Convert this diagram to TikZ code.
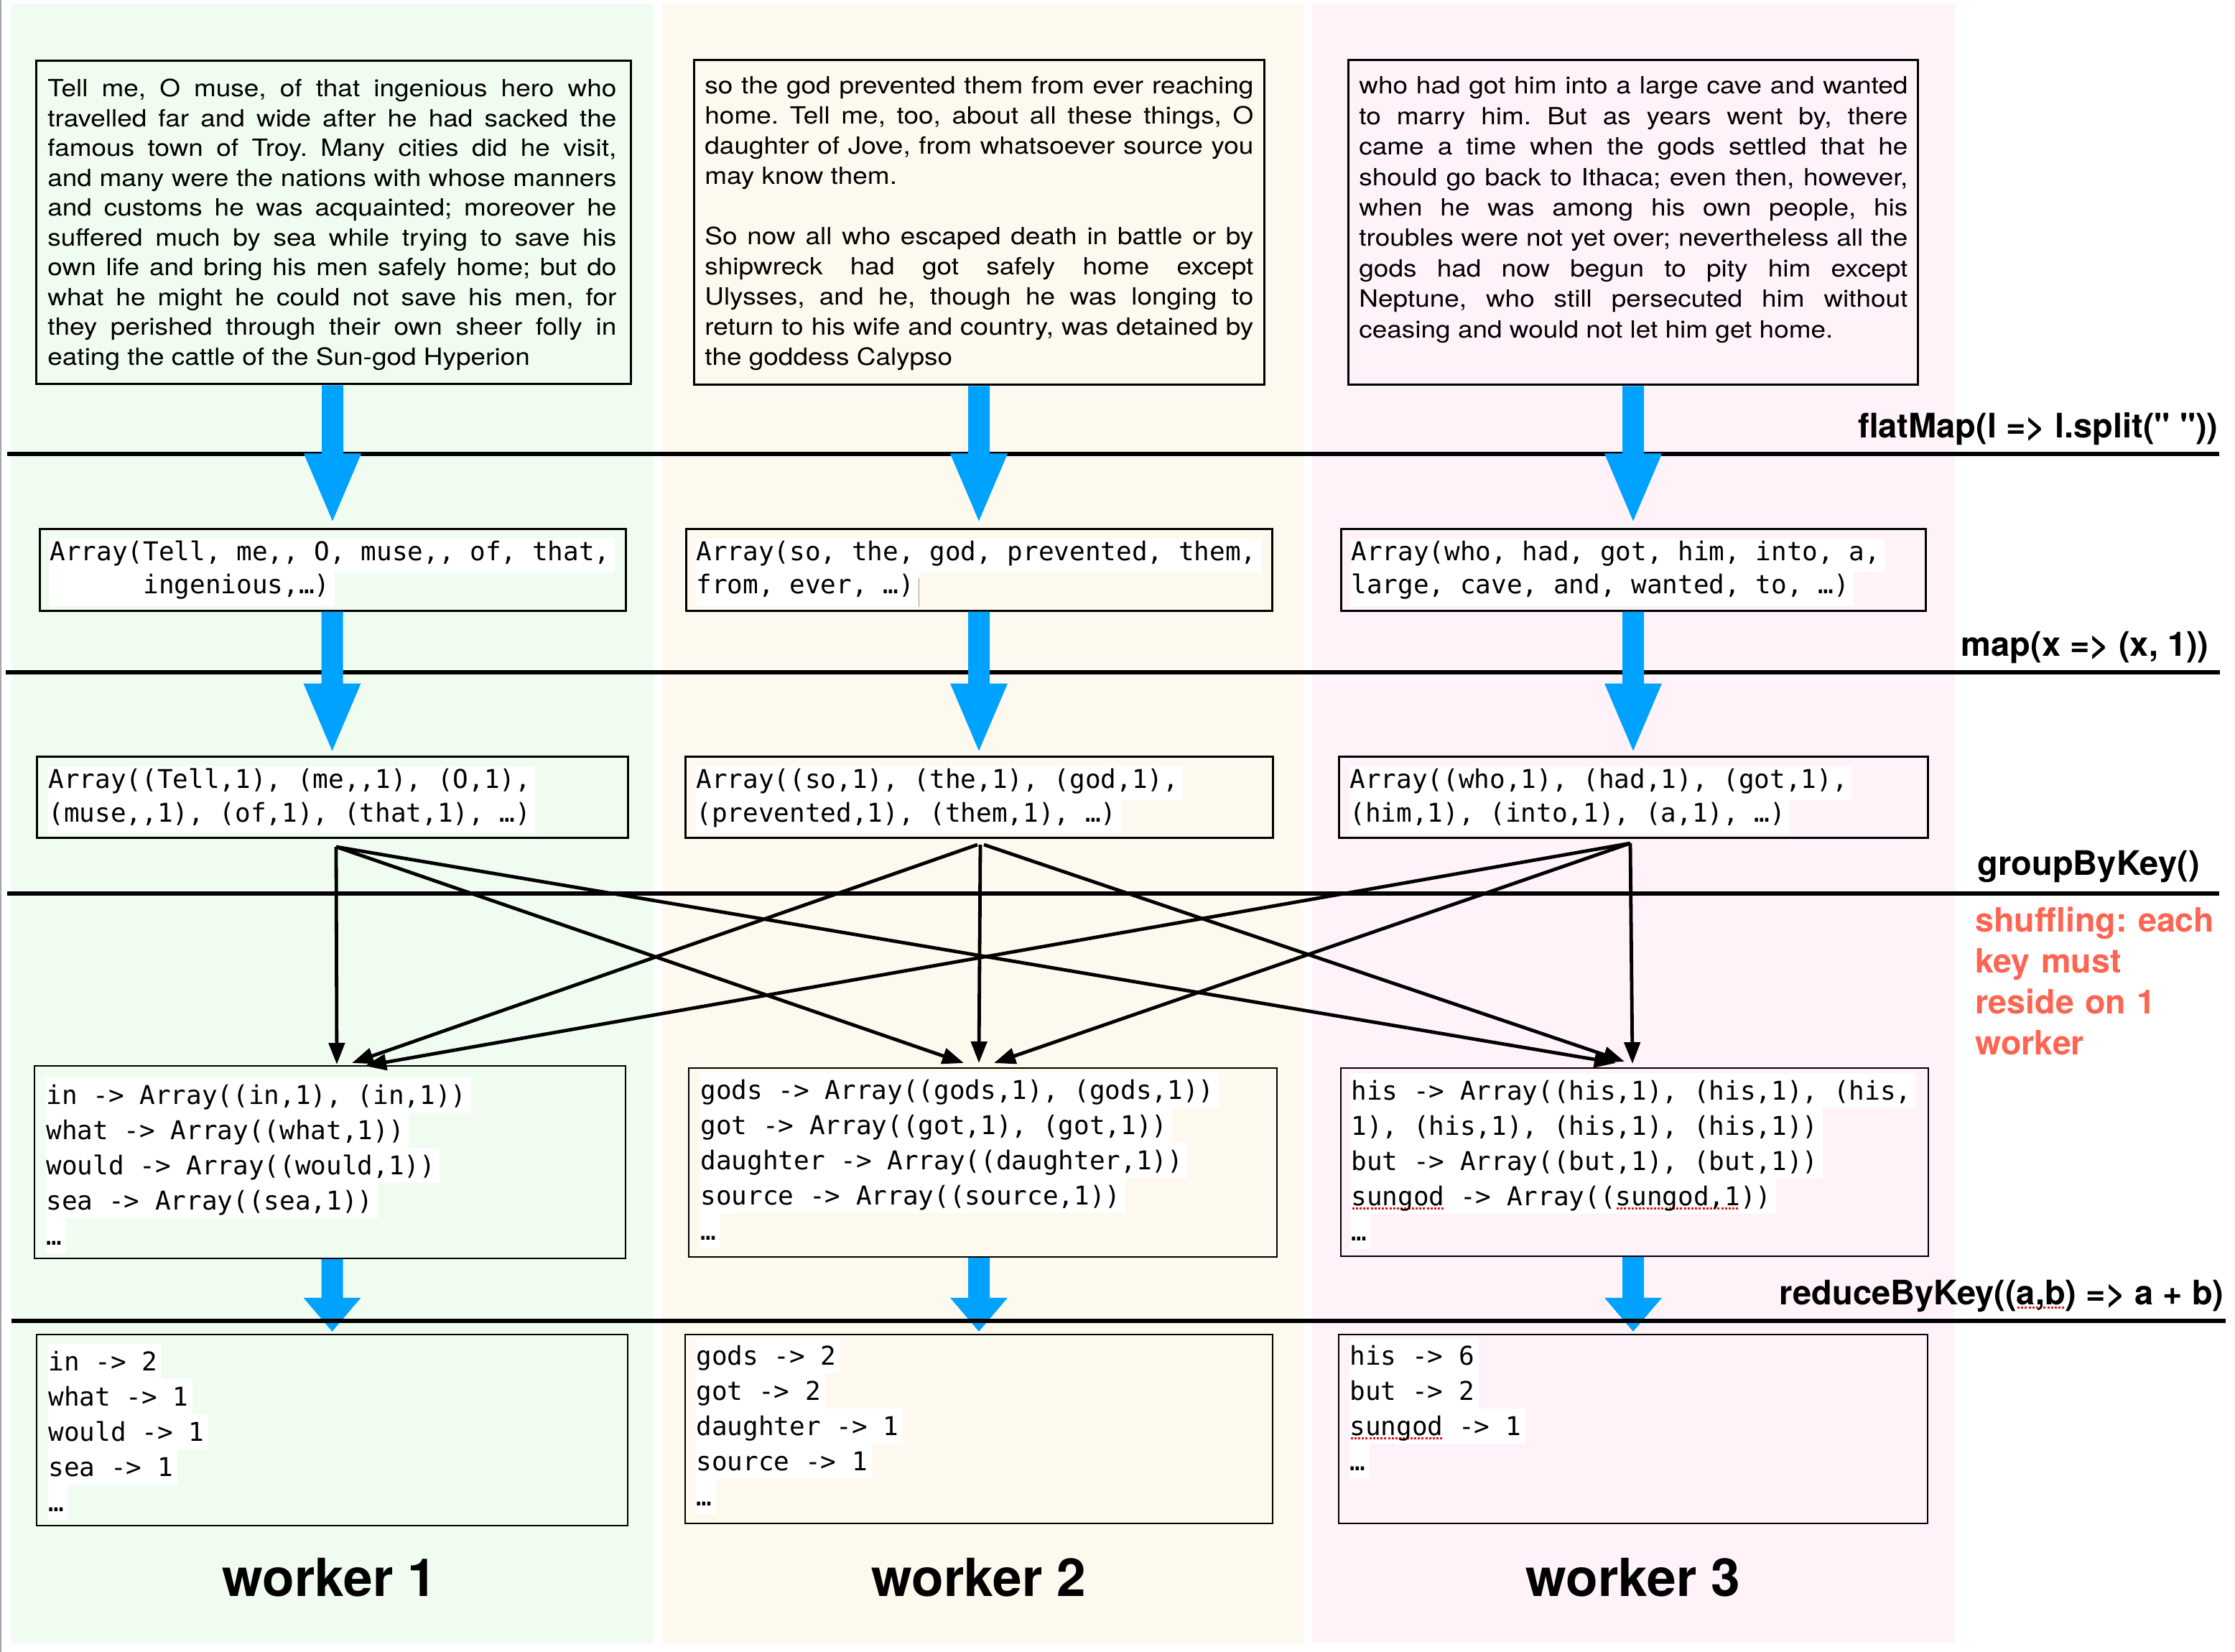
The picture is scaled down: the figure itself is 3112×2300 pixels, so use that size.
\documentclass[tikz,border=0pt]{standalone}
\usepackage{fontspec}
\setmainfont{TeX Gyre Heros}
\newfontfamily\bodyf[FakeStretch=1.12]{TeX Gyre Heros}
\newfontfamily\qf[Ligatures=TeXOff]{TeX Gyre Heros}
\newfontfamily\monof{DejaVu Sans Mono}
\usetikzlibrary{fit,calc,arrows.meta}
\definecolor{colA}{RGB}{241,252,240}
\definecolor{colB}{RGB}{254,249,238}
\definecolor{colC}{RGB}{255,242,248}
\definecolor{bluearr}{RGB}{0,162,255}
\definecolor{redtxt}{RGB}{255,100,82}
\definecolor{spellred}{RGB}{230,20,20}
\hbadness=10000 \vbadness=10000 \hfuzz=6pt
\frenchspacing
\newlength\spw
\newlength\monosp
\newcommand\spellu[1]{\settowidth\spw{#1}\leavevmode\rlap{\textcolor{spellred}{\raisebox{-3pt}{\leaders\hbox to 2.6pt{\hss\rule{1.5pt}{1.5pt}\hss}\hskip\spw}}}#1}
\newcommand\fixsp{\settowidth\monosp{x}\spaceskip=\monosp\xspaceskip=\monosp}
\newcommand\hlB[1]{{\setlength\fboxsep{0pt}\colorbox{white}{\fixsp\rule[-8.5pt]{0pt}{23.5pt}#1\hspace{3pt}}}}
\newcommand\hlD[1]{{\setlength\fboxsep{0pt}\colorbox{white}{\fixsp\rule[-6pt]{0pt}{24.5pt}#1\hspace{3pt}}}}
\newcommand\bluearrow[4]{%
  \fill[bluearr] let \p1=(#1.south), \p2=(#2.north) in
    ({\x2-7.5pt},{\y1}) -- ({\x2+7.5pt},{\y1}) -- ({\x2+7.5pt},{\y2+#3pt+#4pt})
    -- ({\x2+20pt},{\y2+#3pt+#4pt}) -- ({\x2},{\y2+#3pt})
    -- ({\x2-20pt},{\y2+#3pt+#4pt}) -- ({\x2-7.5pt},{\y2+#3pt+#4pt}) -- cycle;}
\tikzset{
  boxst/.style={draw, line width=1.5pt, inner sep=0pt},
  boxlo/.style={draw, line width=1.2pt, inner sep=0pt},
  bodyt/.style={inner sep=0pt, anchor=base west, align=justify},
  monoB/.style={font=\monof\fontsize{18pt}{23.5pt}\selectfont, anchor=base west, inner sep=0pt, text width=420pt, align=left},
  monoD/.style={font=\monof\fontsize{18pt}{24.5pt}\selectfont, anchor=base west, inner sep=0pt, text width=420pt, align=left},
  lbl/.style={font=\bfseries\fontsize{23.5pt}{28pt}\selectfont, inner sep=0pt, anchor=base east},
  redlbl/.style={font=\bfseries\fontsize{23.3pt}{28.5pt}\selectfont, text=redtxt, inner sep=0pt, anchor=base west, text width=190pt, align=left},
  wlbl/.style={font=\bfseries\fontsize{36.5pt}{40pt}\selectfont, inner sep=0pt, anchor=base},
  stage/.style={line width=2.7pt},
  shuf/.style={line width=2.4pt, -{Triangle[length=15pt,width=11pt]}}
}
\begin{document}
\begin{tikzpicture}[x=0.5pt,y=-0.5pt]
\useasboundingbox (0,0) rectangle (3112,2300);
% column backgrounds
\fill[colA] (16,5) rectangle (910,2288);
\fill[colB] (922,5) rectangle (1815,2288);
\fill[colC] (1827,5) rectangle (2722,2288);
\draw[black!35, line width=1pt] (1,0) -- (1,2300);
% stage lines
\draw[stage] (10,632) -- (3090,632);
\draw[stage] (8,936) -- (3091,936);
\draw[stage] (10,1244) -- (3090,1244);
% boxes row 1
\node[boxst, fit={(50,85) (878,535)}] (A1) {};
\node[boxst, fit={(966,84) (1760,536)}] (A2) {};
\node[boxst, fit={(1877,84) (2670,536)}] (A3) {};
\begin{scope}
\clip (0,0) rectangle (3112,516);
\node[bodyt, text width=396pt, font=\bodyf\fontsize{16.5pt}{20.75pt}\selectfont\hyphenpenalty10000\exhyphenpenalty10000] (A1t) at (66,135) {Tell me, O muse, of that ingenious hero who\linebreak
travelled far and wide after he had sacked the\linebreak
famous town of Troy. Many cities did he visit,\linebreak
and many were the nations with whose manners\linebreak
and customs he was acquainted; moreover he\linebreak
suffered much by sea while trying to save his\linebreak
own life and bring his men safely home; but do\linebreak
what he might he could not save his men, for\linebreak
they perished through their own sheer folly in\linebreak
eating the cattle of the Sun-god Hyperion};
\end{scope}
\node[bodyt, text width=382pt, font=\bodyf\fontsize{16.5pt}{21pt}\selectfont\hyphenpenalty10000\exhyphenpenalty10000] (A2t) at (981,131) {so the god prevented them from ever reaching\linebreak
home. Tell me, too, about all these things, O\linebreak
daughter of Jove, from whatsoever source you\linebreak
may know them.\par\vspace{21pt}
So now all who escaped death in battle or by\linebreak
shipwreck had got safely home except\linebreak
Ulysses, and he, though he was longing to\linebreak
return to his wife and country, was detained by\linebreak
the goddess Calypso};
\node[bodyt, text width=382pt, font=\bodyf\fontsize{16.5pt}{21.2pt}\selectfont\hyphenpenalty10000\exhyphenpenalty10000] (A3t) at (1892,131) {who had got him into a large cave and wanted\linebreak
to marry him. But as years went by, there\linebreak
came a time when the gods settled that he\linebreak
should go back to Ithaca; even then, however,\linebreak
when he was among his own people, his\linebreak
troubles were not yet over; nevertheless all the\linebreak
gods had now begun to pity him except\linebreak
Neptune, who still persecuted him without\linebreak
ceasing and would not let him get home.};
% row 2
\node[boxst, fit={(55,737) (871,850)}] (B1) {};
\node[boxst, fit={(955,737) (1771,850)}] (B2) {};
\node[boxst, fit={(1867,737) (2681,850)}] (B3) {};
\node[monoB] (B1t) at (69,780) {\hlB{Array(Tell, me,, O, muse,, of, that,}\\\hlB{\hphantom{AAAAAA}ingenious,…)}};
\node[monoB] (B2t) at (969,780) {\hlB{Array(so, the, god, prevented, them,}\\\hlB{from, ever, …)}\textcolor{black!40}{\rule[-9pt]{0.8pt}{20pt}}};
\node[monoB] (B3t) at (1881,780) {\hlB{Array(who, had, got, him, into, a,}\\\hlB{large, cave, and, wanted, to, …)}};
% row 3
\node[boxst, fit={(51,1053) (874,1166)}] (C1) {};
\node[boxst, fit={(954,1053) (1772,1166)}] (C2) {};
\node[boxst, fit={(1864,1053) (2684,1166)}] (C3) {};
\node[monoB] (C1t) at (67,1097) {\hlB{Array((Tell,1), (me,,1), (O,1),}\\\hlB{(muse,,1), (of,1), (that,1), …)}};
\node[monoB] (C2t) at (969,1097) {\hlB{Array((so,1), (the,1), (god,1),}\\\hlB{(prevented,1), (them,1), …)}};
\node[monoB] (C3t) at (1879,1097) {\hlB{Array((who,1), (had,1), (got,1),}\\\hlB{(him,1), (into,1), (a,1), …)}};
% row 4
\node[boxlo, fit={(48,1484) (871,1752)}] (D1) {};
\node[boxlo, fit={(959,1487) (1778,1750)}] (D2) {};
\node[boxlo, fit={(1867,1487) (2685,1749)}] (D3) {};
\node[monoD] (D1t) at (64,1537) {\hlD{in -> Array((in,1), (in,1))}\\\hlD{what -> Array((what,1))}\\\hlD{would -> Array((would,1))}\\\hlD{sea -> Array((sea,1))}\\\hlD{…}};
\node[monoD] (D2t) at (975,1530) {\hlD{gods -> Array((gods,1), (gods,1))}\\\hlD{got -> Array((got,1), (got,1))}\\\hlD{daughter -> Array((daughter,1))}\\\hlD{source -> Array((source,1))}\\\hlD{…}};
\node[monoD] (D3t) at (1881,1531) {\hlD{his -> Array((his,1), (his,1), (his,}\\\hlD{1), (his,1), (his,1), (his,1))}\\\hlD{but -> Array((but,1), (but,1))}\\\hlD{\spellu{sungod} -> Array((\spellu{sungod,1}))}\\\hlD{…}};
% row 5
\node[boxlo, fit={(51,1858) (874,2124)}] (E1) {};
\node[boxlo, fit={(954,1858) (1772,2121)}] (E2) {};
\node[boxlo, fit={(1864,1858) (2684,2121)}] (E3) {};
\node[monoD] (E1t) at (67,1908) {\hlD{in -> 2}\\\hlD{what -> 1}\\\hlD{would -> 1}\\\hlD{sea -> 1}\\\hlD{…}};
\node[monoD] (E2t) at (969,1900) {\hlD{gods -> 2}\\\hlD{got -> 2}\\\hlD{daughter -> 1}\\\hlD{source -> 1}\\\hlD{…}};
\node[monoD] (E3t) at (1879,1900) {\hlD{his -> 6}\\\hlD{but -> 2}\\\hlD{\spellu{sungod} -> 1}\\\hlD{…}};
% blue arrows
\bluearrow{A1}{B1}{5}{47}
\bluearrow{A2}{B2}{5}{47}
\bluearrow{A3}{B3}{5}{47}
\bluearrow{B1}{C1}{3}{47}
\bluearrow{B2}{C2}{3}{47}
\bluearrow{B3}{C3}{3}{47}
\bluearrow{D1}{E1}{1.5}{23.5}
\bluearrow{D2}{E2}{1.5}{23.5}
\bluearrow{D3}{E3}{1.5}{23.5}
% shuffle arrows
\coordinate (s1) at (468,1179);
\coordinate (s2l) at (1361,1176);
\coordinate (s2) at (1365,1176);
\coordinate (s2r) at (1370,1176);
\coordinate (s3) at (2270,1174);
\coordinate (t11) at (469,1482);
\coordinate (t21) at (490,1480);
\coordinate (t31) at (508,1484);
\coordinate (t12) at (1342,1480);
\coordinate (t22) at (1363,1480);
\coordinate (t32) at (1384,1480);
\coordinate (t13) at (2250,1480);
\coordinate (t23) at (2262,1478);
\coordinate (t33) at (2273,1481);
\draw[shuf] (s1) -- (t11);
\draw[shuf] (s1) -- (t12);
\draw[shuf] (s1) -- (t13);
\draw[shuf] (s2l) -- (t21);
\draw[shuf] (s2) -- (t22);
\draw[shuf] (s2r) -- (t23);
\draw[shuf] (s3) -- (t31);
\draw[shuf] (s3) -- (t32);
\draw[shuf] (s3) -- (t33);
% reduce line
\draw[stage] (16,1839) -- (3099,1839);
% labels
\node[lbl] (lflat) at (3089,610) {flatMap(l => l.split({\qf"} {\qf"}))};
\node[lbl] (lmap) at (3076,913) {map(x => (x, 1))};
\node[lbl] (lgroup) at (3063,1218) {groupByKey()};
\node[lbl] (lreduce) at (3097,1816) {reduceByKey((\spellu{a,b}) => a + b)};
\node[redlbl] (lshuf) at (2750,1297) {shuffling: each\\key must\\reside on 1\\worker};
\node[wlbl] (w1) at (459,2222) {worker 1};
\node[wlbl] (w2) at (1363,2222) {worker 2};
\node[wlbl] (w3) at (2274,2222) {worker 3};
\end{tikzpicture}
\end{document}
